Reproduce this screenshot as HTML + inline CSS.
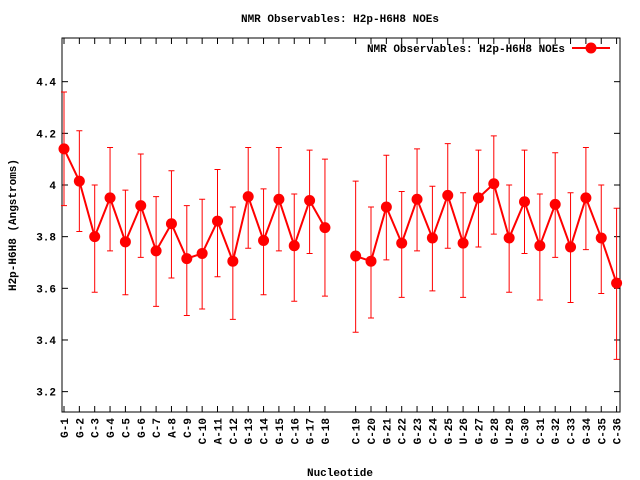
<!DOCTYPE html>
<html><head><meta charset="utf-8"><style>
body{margin:0;background:#fff}
svg{display:block;font-family:"Liberation Mono","DejaVu Sans Mono",monospace}
</style></head><body>
<svg id="chart" width="640" height="480" xmlns="http://www.w3.org/2000/svg">
<text x="340" y="22" font-size="11" font-weight="bold" text-anchor="middle">NMR Observables: H2p-H6H8 NOEs</text>
<text x="340" y="476" font-size="11" font-weight="bold" text-anchor="middle">Nucleotide</text>
<text transform="translate(16,225) rotate(-90)" font-size="11" font-weight="bold" text-anchor="middle">H2p-H6H8 (Angstroms)</text>
<g id="axes"></g>
<g id="marks"></g>
<g>
<text x="565" y="52" font-size="11" font-weight="bold" text-anchor="end">NMR Observables: H2p-H6H8 NOEs</text>
<line x1="572" y1="48" x2="610" y2="48" stroke="#f00" stroke-width="2"/>
<circle cx="591" cy="48" r="5.5" fill="#f00"/>
</g>
</svg>
<script>
const labels=["G-1","G-2","C-3","G-4","C-5","G-6","C-7","A-8","C-9","C-10","A-11","C-12","G-13","C-14","G-15","C-16","G-17","G-18","C-19","C-20","G-21","C-22","G-23","C-24","G-25","U-26","G-27","G-28","U-29","G-30","C-31","G-32","C-33","G-34","C-35","C-36"];
const values=[4.14,4.015,3.80,3.95,3.78,3.92,3.745,3.85,3.715,3.735,3.86,3.705,3.955,3.785,3.945,3.765,3.94,3.835,3.725,3.705,3.915,3.775,3.945,3.795,3.96,3.775,3.95,4.005,3.795,3.935,3.765,3.925,3.76,3.95,3.795,3.62];
const upper=[4.36,4.21,4.0,4.145,3.98,4.12,3.955,4.055,3.92,3.945,4.06,3.915,4.145,3.985,4.145,3.965,4.135,4.1,4.015,3.915,4.115,3.975,4.14,3.995,4.16,3.97,4.135,4.19,4.0,4.135,3.965,4.125,3.97,4.145,4.0,3.91];
const lower=[3.92,3.82,3.585,3.745,3.575,3.72,3.53,3.64,3.495,3.52,3.645,3.48,3.755,3.575,3.745,3.55,3.735,3.57,3.43,3.485,3.71,3.565,3.745,3.59,3.755,3.565,3.76,3.81,3.585,3.735,3.555,3.72,3.545,3.75,3.58,3.325];
const yTicks=[3.2,3.4,3.6,3.8,4.0,4.2,4.4];
const yTickLabels=["3.2","3.4","3.6","3.8","4","4.2","4.4"];
const L=62,R=620,T=38,B=412;
const NS="http://www.w3.org/2000/svg";
function pos(i){return i<18?i+1:i+2;}
function xs(p){return 64+(p-1)*15.35;}
function ys(v){return 185-(v-4.0)*258.3;}
function mk(tag,attrs,parent){const e=document.createElementNS(NS,tag);for(const k in attrs)e.setAttribute(k,attrs[k]);parent.appendChild(e);return e;}
const ax=document.getElementById('axes'),mg=document.getElementById('marks');
const frame=mk('rect',{x:L,y:T,width:R-L,height:B-T,fill:'none',stroke:'#000'},ax);


yTicks.forEach((v,i)=>{const y=ys(v);
mk('line',{x1:L,y1:y,x2:L+6,y2:y,stroke:'#000'},ax);
mk('line',{x1:R,y1:y,x2:R-6,y2:y,stroke:'#000'},ax);
const t=mk('text',{x:L-6,y:y+4,'font-size':11,'font-weight':'bold','text-anchor':'end'},ax);t.textContent=yTickLabels[i];

});
labels.forEach((lb,i)=>{const x=xs(pos(i));
mk('line',{x1:x,y1:B,x2:x,y2:B-6,stroke:'#000'},ax);
mk('line',{x1:x,y1:T,x2:x,y2:T+6,stroke:'#000'},ax);
const t=mk('text',{transform:`translate(${x+4},${B+6}) rotate(-90)`,'font-size':11,'font-weight':'bold','text-anchor':'end'},ax);t.textContent=lb;

});
function seg(a,b){let d='';for(let i=a;i<b;i++)d+=(i==a?'M':'L')+xs(pos(i))+','+ys(values[i]);return d;}
const l1=mk('path',{d:seg(0,18),fill:'none',stroke:'#f00','stroke-width':2},mg);


const l2=mk('path',{d:seg(18,36),fill:'none',stroke:'#f00','stroke-width':2},mg);


values.forEach((v,i)=>{const x=xs(pos(i));
const e=mk('path',{d:`M${x},${ys(upper[i])}V${ys(lower[i])}M${x-3},${ys(upper[i])}H${x+3}M${x-3},${ys(lower[i])}H${x+3}`,stroke:'#f00','stroke-width':1,fill:'none'},mg);


const c=mk('circle',{cx:x,cy:ys(v),r:5.5,fill:'#f00'},mg);

});
</script>
</body></html>
